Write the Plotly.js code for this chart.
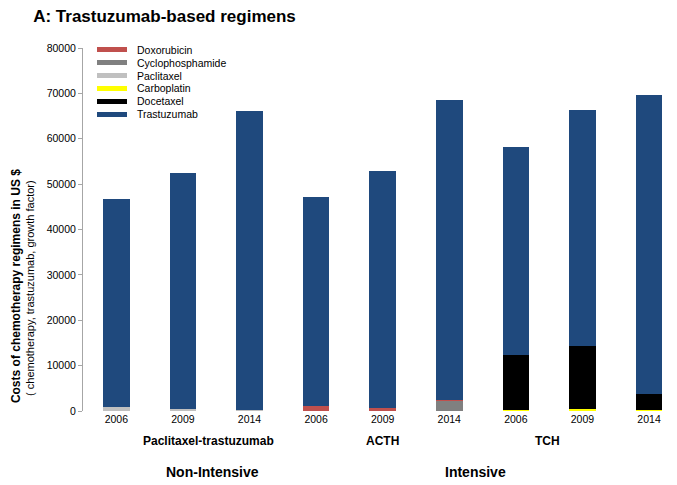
<!DOCTYPE html>
<html>
<head>
<meta charset="utf-8">
<script src="https://cdn.plot.ly/plotly-3.0.1.min.js"></script>
<style>html,body{margin:0;padding:0;background:#fff;}#chart{width:677px;height:485px;}</style>
</head>
<body>
<div id="chart"></div>
<script>
// ---- data ----
const years = ["2006", "2009", "2014", "2006", "2009", "2014", "2006", "2009", "2014"];
const regimens = ["Paclitaxel-trastuzumab", "ACTH", "TCH"];
const intensity = ["Non-Intensive", "Intensive"];
const seriesNames = ["Doxorubicin", "Cyclophosphamide", "Paclitaxel", "Carboplatin", "Docetaxel", "Trastuzumab"];
const doxorubicin      = [0, 0, 0, 1100, 700, 400, 0, 0, 0];
const cyclophosphamide = [0, 0, 0, 0, 0, 2100, 0, 0, 0];
const paclitaxel       = [800, 350, 200, 0, 0, 0, 0, 0, 0];
const carboplatin      = [0, 0, 0, 0, 0, 0, 200, 400, 300];
const docetaxel        = [0, 0, 0, 0, 0, 0, 12100, 13900, 3400];
const trastuzumab      = [45900, 52100, 65900, 46000, 52200, 66000, 45900, 52000, 65900];

// ---- styling ----
const colors = {
  Doxorubicin: "#c0504d",
  Cyclophosphamide: "#808080",
  Paclitaxel: "#c0c0c0",
  Carboplatin: "#ffff00",
  Docetaxel: "#000000",
  Trastuzumab: "#1f497d"
};
const FONT = "Liberation Sans, Arial, Helvetica, sans-serif";
const xIdx = years.map((_, i) => i);

// stacking order (bottom to top) as seen in the bars
const stackOrder = [
  ["Cyclophosphamide", cyclophosphamide],
  ["Doxorubicin", doxorubicin],
  ["Paclitaxel", paclitaxel],
  ["Carboplatin", carboplatin],
  ["Docetaxel", docetaxel],
  ["Trastuzumab", trastuzumab]
];

const traces = stackOrder.map(([name, vals]) => ({
  type: "bar",
  name: name,
  x: xIdx,
  y: vals,
  marker: {color: colors[name], line: {width: 0}},
  showlegend: false,
  hoverinfo: "name+y"
}));

const groupPos = [1.38, 3.99, 6.47];
const intensityPos = [1.45, 5.4];

const annotations = [];
regimens.forEach((r, i) => annotations.push({
  text: "<b>" + r + "</b>", xref: "x", yref: "paper", x: groupPos[i], y: -0.082,
  xanchor: "center", yanchor: "middle", showarrow: false,
  font: {family: FONT, size: 12, color: "#000"}
}));
intensity.forEach((r, i) => annotations.push({
  text: "<b>" + r + "</b>", xref: "x", yref: "paper", x: intensityPos[i], y: -0.168,
  xanchor: "center", yanchor: "middle", showarrow: false,
  font: {family: FONT, size: 14, color: "#000"}
}));
annotations.push({
  text: "<b>Costs of chemotherapy regimens in US $</b>", xref: "paper", yref: "paper",
  x: -0.1128, y: 0.344, textangle: -90, xanchor: "center", yanchor: "middle", showarrow: false,
  font: {family: FONT, size: 12, color: "#000"}
});
annotations.push({
  text: "( chemotherapy, trastuzumab, growth factor)", xref: "paper", yref: "paper",
  x: -0.0892, y: 0.339, textangle: -90, xanchor: "center", yanchor: "middle", showarrow: false,
  font: {family: FONT, size: 11, color: "#000"}
});

// legend: swatch + label per series (compact, like the reference)
const legTop = 0.9945, legStep = 0.0353;
seriesNames.forEach((name, k) => {
  const yy = legTop - k * legStep;
  annotations.push({
    text: " ", xref: "paper", yref: "paper", x: 0.0236, y: yy,
    xanchor: "left", yanchor: "middle", showarrow: false,
    width: 30, height: 5, bgcolor: colors[name], borderpad: 0, borderwidth: 0,
    font: {family: FONT, size: 4, color: colors[name]}
  });
  annotations.push({
    text: name, xref: "paper", yref: "paper", x: 0.0875, y: yy,
    xanchor: "left", yanchor: "middle", showarrow: false,
    font: {family: FONT, size: 10.5, color: "#000"}
  });
});

const layout = {
  width: 677, height: 485,
  margin: {l: 83, r: 0, t: 48, b: 74},
  paper_bgcolor: "#fff", plot_bgcolor: "#fff",
  font: {family: FONT, size: 11, color: "#000"},
  title: {
    text: "<b>A: Trastuzumab-based regimens</b>",
    xref: "container", yref: "container",
    x: 0.049, xanchor: "left", y: 0.967, yanchor: "middle",
    font: {family: FONT, size: 17, color: "#000"}
  },
  barmode: "stack",
  bargap: 0.6,
  showlegend: false,
  xaxis: {
    range: [-0.5, 8.42],
    tickvals: xIdx, ticktext: years,
    showline: false, showgrid: false, zeroline: false, ticks: "",
    tickfont: {family: FONT, size: 10.5, color: "#000"},
    fixedrange: true
  },
  yaxis: {
    range: [0, 80000], dtick: 10000, tickformat: "d",
    showline: true, linecolor: "#a6a6a6", linewidth: 1,
    ticks: "outside", ticklen: 4, tickcolor: "#a6a6a6",
    showgrid: false, zeroline: false,
    tickfont: {family: FONT, size: 10.5, color: "#000"},
    fixedrange: true
  },
  annotations: annotations
};

Plotly.newPlot("chart", traces, layout, {displayModeBar: false, staticPlot: true});
</script>
</body>
</html>
